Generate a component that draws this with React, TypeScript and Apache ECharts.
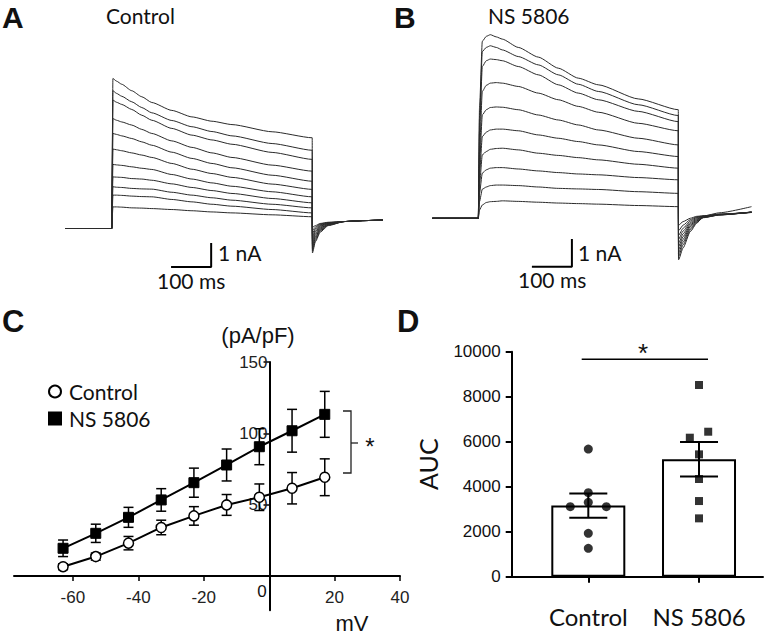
import React, { useEffect, useRef } from 'react';
import * as echarts from 'echarts';

// ---------- Panel A (Control) whole-cell current traces, nA ----------
const A_PRE_T = [-115, 0];
const A_STEP_T = [3, 12, 25, 50, 75, 100, 150, 200, 250, 300, 400, 500];
const A_STEP = [
  [6.25, 6.14, 6.01, 5.74, 5.49, 5.25, 4.92, 4.65, 4.47, 4.33, 4.03, 3.78],
  [5.74, 5.63, 5.51, 5.28, 5.04, 4.82, 4.5, 4.24, 4.04, 3.86, 3.54, 3.26],
  [5.35, 5.26, 5.17, 4.96, 4.72, 4.51, 4.17, 3.89, 3.69, 3.51, 3.17, 2.88],
  [4.58, 4.51, 4.44, 4.31, 4.13, 3.96, 3.65, 3.38, 3.15, 2.96, 2.64, 2.39],
  [3.96, 3.92, 3.86, 3.75, 3.61, 3.47, 3.18, 2.92, 2.71, 2.53, 2.22, 1.97],
  [3.31, 3.28, 3.24, 3.15, 3.06, 2.96, 2.71, 2.47, 2.29, 2.13, 1.85, 1.63],
  [2.67, 2.65, 2.63, 2.57, 2.51, 2.46, 2.25, 2.06, 1.9, 1.76, 1.53, 1.32],
  [2.15, 2.14, 2.13, 2.08, 2.06, 2.01, 1.86, 1.71, 1.58, 1.46, 1.25, 1.07],
  [1.74, 1.72, 1.71, 1.67, 1.65, 1.64, 1.51, 1.39, 1.28, 1.18, 1.01, 0.86],
  [1.39, 1.39, 1.38, 1.35, 1.33, 1.32, 1.21, 1.11, 1.01, 0.93, 0.79, 0.65],
  [0.9, 0.9, 0.89, 0.86, 0.85, 0.83, 0.79, 0.74, 0.69, 0.65, 0.57, 0.49],
];
const A_TAIL_T = [500.5, 508, 520, 540];
const A_TAIL = [
  [-1.02, -0.55, -0.15, 0.12],
  [-0.92, -0.48, -0.1, 0.14],
  [-0.82, -0.41, -0.06, 0.15],
  [-0.72, -0.34, -0.02, 0.17],
  [-0.62, -0.27, 0.02, 0.18],
  [-0.52, -0.2, 0.06, 0.2],
  [-0.42, -0.13, 0.1, 0.21],
  [-0.32, -0.06, 0.13, 0.22],
  [-0.2, 0.0, 0.16, 0.24],
  [-0.08, 0.06, 0.19, 0.25],
  [0.05, 0.12, 0.21, 0.26],
];
const A_LATE_T = [580, 630, 676];
const A_LATE = [0.29, 0.33, 0.35];

// ---------- Panel B (NS 5806) ----------
const B_PRE_T = [-115, 0];
const B_STEP_T = [3, 10, 20, 30, 45, 60, 100, 150, 200, 250, 300, 400, 500];
const B_STEP = [
  [3.98, 6.39, 6.57, 6.63, 6.55, 6.47, 6.17, 5.82, 5.42, 5.06, 4.82, 4.31, 3.92],
  [3.61, 6.02, 6.17, 6.23, 6.17, 6.08, 5.84, 5.54, 5.18, 4.84, 4.58, 4.1, 3.71],
  [3.13, 5.48, 5.69, 5.75, 5.73, 5.69, 5.48, 5.18, 4.82, 4.52, 4.28, 3.86, 3.49],
  [2.41, 4.58, 4.8, 4.88, 4.9, 4.88, 4.76, 4.52, 4.28, 4.04, 3.83, 3.43, 3.16],
  [1.93, 3.73, 3.92, 4.0, 4.02, 4.01, 3.92, 3.73, 3.55, 3.37, 3.19, 2.89, 2.65],
  [1.57, 2.95, 3.11, 3.19, 3.22, 3.22, 3.16, 3.01, 2.89, 2.77, 2.65, 2.41, 2.23],
  [1.2, 2.29, 2.41, 2.49, 2.52, 2.53, 2.47, 2.35, 2.27, 2.19, 2.11, 1.95, 1.81],
  [0.9, 1.63, 1.75, 1.81, 1.83, 1.83, 1.78, 1.71, 1.65, 1.6, 1.57, 1.47, 1.39],
  [0.6, 1.05, 1.13, 1.18, 1.2, 1.2, 1.18, 1.13, 1.08, 1.06, 1.04, 0.96, 0.9],
  [0.3, 0.48, 0.57, 0.6, 0.61, 0.63, 0.61, 0.58, 0.55, 0.53, 0.51, 0.46, 0.42],
];
const B_TAIL_T = [500.5, 512, 530, 546];
const B_TAIL = [
  [-1.5, -1.07, -0.48, -0.18],
  [-1.38, -0.96, -0.42, -0.15],
  [-1.26, -0.86, -0.36, -0.12],
  [-1.14, -0.76, -0.3, -0.09],
  [-1.02, -0.66, -0.25, -0.06],
  [-0.9, -0.56, -0.2, -0.03],
  [-0.76, -0.46, -0.15, 0.0],
  [-0.62, -0.36, -0.1, 0.03],
  [-0.45, -0.25, -0.05, 0.05],
  [-0.25, -0.12, 0.0, 0.07],
];
const B_LATE_T = [562, 604, 683];
const B_LATE = [
  [0.08, 0.2, 0.42],
  [0.02, 0.12, 0.23],
  [0.03, 0.12, 0.22],
  [0.03, 0.13, 0.22],
  [0.04, 0.13, 0.22],
  [0.05, 0.13, 0.21],
  [0.06, 0.14, 0.22],
  [0.07, 0.14, 0.22],
  [0.08, 0.15, 0.21],
  [0.09, 0.15, 0.22],
];

// scale bars (length in data units)
const SCALE_MS = 100;
const SCALE_NA = 1;
const A_BAR_ORIGIN = [148, -1.6];
const B_BAR_ORIGIN = [134, -1.75];

// ---------- Panel C: I-V relation (pA/pF) ----------
const VOLTAGES = [-63, -53, -43, -33, -23, -13, -3, 7, 17];
const CTRL_MEAN = [6.5, 13.6, 23.0, 34.0, 42.1, 49.8, 55.2, 61.5, 69.2];
const CTRL_SEM = [2, 2.5, 4.7, 5.1, 6.5, 7.3, 9.3, 11, 12.9];
const NS_MEAN = [19.4, 29.9, 41.1, 53.3, 65.4, 77.8, 90.6, 101.8, 113.3];
const NS_SEM = [5.8, 6.4, 7.0, 7.9, 10.2, 11.2, 12.6, 15.0, 16.1];
const C_X_TICKS = [-60, -40, -20, 20, 40];
const C_Y_TICKS = [50, 100, 150];

// ---------- Panel D: AUC ----------
const GROUPS = ['Control', 'NS 5806'];
const AUC_MEAN = [3160, 5220];
const AUC_SEM = [540, 770];
const CTRL_AUC = [5674, 3733, 3304, 3111, 3111, 1926, 1259];
const CTRL_JITTER = [0, 0, 0, -0.163, 0.163, 0, 0];
const NS_AUC = [8519, 6444, 6178, 5437, 4341, 3363, 2593];
const NS_JITTER = [0, 0.083, -0.083, 0, 0, 0, 0];

const SANS = 'Liberation Sans, Arial, sans-serif';
const CAL = 'Lato, Open Sans, sans-serif';

function buildTrace(preT: number[], stepT: number[], step: number[], tailT: number[], tail: number[], lateT: number[], late: number[]) {
  const d: number[][] = [];
  preT.forEach((t) => d.push([t, 0]));
  stepT.forEach((t, j) => d.push([t, step[j]]));
  tailT.forEach((t, j) => d.push([t, tail[j]]));
  lateT.forEach((t, j) => d.push([t, late[j]]));
  return d;
}

function errRender(halfW: number, lw: number) {
  return (params: any, api: any) => {
    const x = api.value(0);
    const lo = api.coord([x, api.value(1)]);
    const hi = api.coord([x, api.value(2)]);
    const st = { stroke: '#000', lineWidth: lw };
    return {
      type: 'group',
      children: [
        { type: 'line', shape: { x1: lo[0], y1: lo[1], x2: hi[0], y2: hi[1] }, style: st },
        { type: 'line', shape: { x1: lo[0] - halfW, y1: lo[1], x2: lo[0] + halfW, y2: lo[1] }, style: st },
        { type: 'line', shape: { x1: hi[0] - halfW, y1: hi[1], x2: hi[0] + halfW, y2: hi[1] }, style: st },
      ],
    };
  };
}

function txt(text: string, x: number, y: number, font: string, align = 'left', va = 'middle') {
  return { type: 'text', x, y, silent: true, style: { text, font, fill: '#111', align, verticalAlign: va } };
}

export default function App() {
  const ref = useRef<HTMLDivElement>(null);
  useEffect(() => {
    if (!ref.current) return;
    const chart = echarts.init(ref.current, undefined, { renderer: 'svg' });
    const series: any[] = [];
    const traceStyle = { type: 'line', symbol: 'none', smooth: 0.2, smoothMonotone: 'x', silent: true, lineStyle: { color: '#2a2a2a', width: 1 } };
    A_STEP.forEach((s, i) => {
      series.push({ ...traceStyle, name: 'A' + i, xAxisIndex: 0, yAxisIndex: 0, data: buildTrace(A_PRE_T, A_STEP_T, s, A_TAIL_T, A_TAIL[i], A_LATE_T, A_LATE) });
    });
    B_STEP.forEach((s, i) => {
      series.push({ ...traceStyle, name: 'B' + i, xAxisIndex: 1, yAxisIndex: 1, data: buildTrace(B_PRE_T, B_STEP_T, s, B_TAIL_T, B_TAIL[i], B_LATE_T, B_LATE[i]) });
    });
    const barStyle = { type: 'line', symbol: 'none', silent: true, lineStyle: { color: '#000', width: 2 } };
    series.push({
      ...barStyle, name: 'scaleA', xAxisIndex: 0, yAxisIndex: 0,
      data: [A_BAR_ORIGIN, [A_BAR_ORIGIN[0] + SCALE_MS, A_BAR_ORIGIN[1]], [A_BAR_ORIGIN[0] + SCALE_MS, A_BAR_ORIGIN[1] + SCALE_NA]],
    });
    series.push({
      ...barStyle, name: 'scaleB', xAxisIndex: 1, yAxisIndex: 1,
      data: [B_BAR_ORIGIN, [B_BAR_ORIGIN[0] + SCALE_MS, B_BAR_ORIGIN[1]], [B_BAR_ORIGIN[0] + SCALE_MS, B_BAR_ORIGIN[1] + SCALE_NA]],
    });
    // Panel C
    series.push({
      type: 'custom', name: 'errC', xAxisIndex: 2, yAxisIndex: 2, z: 2, silent: true,
      renderItem: errRender(5, 1.5), encode: { x: 0, y: [1, 2] },
      data: VOLTAGES.map((v, i) => [v, CTRL_MEAN[i] - CTRL_SEM[i], CTRL_MEAN[i] + CTRL_SEM[i]]),
    });
    series.push({
      type: 'custom', name: 'errN', xAxisIndex: 2, yAxisIndex: 2, z: 2, silent: true,
      renderItem: errRender(5, 1.5), encode: { x: 0, y: [1, 2] },
      data: VOLTAGES.map((v, i) => [v, NS_MEAN[i] - NS_SEM[i], NS_MEAN[i] + NS_SEM[i]]),
    });
    series.push({
      type: 'line', name: 'Control', xAxisIndex: 2, yAxisIndex: 2, z: 3,
      symbol: 'circle', symbolSize: 10,
      itemStyle: { color: '#fff', borderColor: '#000', borderWidth: 1.5 },
      lineStyle: { color: '#000', width: 2 },
      data: VOLTAGES.map((v, i) => [v, CTRL_MEAN[i]]),
    });
    series.push({
      type: 'line', name: 'NS 5806', xAxisIndex: 2, yAxisIndex: 2, z: 3,
      symbol: 'rect', symbolSize: 10,
      itemStyle: { color: '#000', borderColor: '#000', borderWidth: 1 },
      lineStyle: { color: '#000', width: 2 },
      data: VOLTAGES.map((v, i) => [v, NS_MEAN[i]]),
    });
    // Panel D
    series.push({
      type: 'bar', name: 'aucMean', xAxisIndex: 3, yAxisIndex: 3, barWidth: 74, silent: true,
      itemStyle: { color: '#fff', borderColor: '#000', borderWidth: 2 },
      data: AUC_MEAN.map((m, i) => [i, m]),
    });
    series.push({
      type: 'custom', name: 'errD', xAxisIndex: 3, yAxisIndex: 3, z: 4, silent: true,
      renderItem: errRender(19, 2), encode: { x: 0, y: [1, 2] },
      data: AUC_MEAN.map((m, i) => [i, m - AUC_SEM[i], m + AUC_SEM[i]]),
    });
    series.push({
      type: 'scatter', name: 'ctrlDots', xAxisIndex: 3, yAxisIndex: 3, z: 5, silent: true,
      symbol: 'circle', symbolSize: 9, itemStyle: { color: '#000' },
      data: CTRL_AUC.map((v, i) => [0 + CTRL_JITTER[i], v]),
    });
    series.push({
      type: 'scatter', name: 'nsDots', xAxisIndex: 3, yAxisIndex: 3, z: 5, silent: true,
      symbol: 'rect', symbolSize: 8, itemStyle: { color: '#000' },
      data: NS_AUC.map((v, i) => [1 + NS_JITTER[i], v]),
    });

    const hidden = { show: false, splitLine: { show: false } };
    const axLine = { show: true, onZero: false, lineStyle: { color: '#000', width: 2 } };

    chart.setOption({
      animation: false,
      backgroundColor: '#fff',
      grid: [
        { left: 65.6, top: 60.5, width: 322.8, height: 216 },
        { left: 432.3, top: 18.9, width: 322, height: 260.3 },
        { left: 14, top: 362, width: 386, height: 248.2 },
        { left: 511.7, top: 351.7, width: 251.3, height: 225 },
      ],
      xAxis: [
        { type: 'value', gridIndex: 0, min: -115, max: 690, ...hidden },
        { type: 'value', gridIndex: 1, min: -115, max: 690, ...hidden },
        {
          type: 'value', gridIndex: 2, min: -78, max: 40, position: 'bottom', offset: -34.2,
          axisLine: axLine,
          axisTick: { show: true, customValues: C_X_TICKS, length: 5, lineStyle: { color: '#000', width: 1.5 } },
          axisLabel: { customValues: C_X_TICKS, margin: 13, fontFamily: SANS, fontSize: 17, color: '#222' },
          splitLine: { show: false },
        },
        {
          type: 'value', gridIndex: 3, min: -0.692, max: 1.578,
          axisLine: axLine,
          axisTick: { show: true, customValues: [0, 1], length: 6, lineStyle: { color: '#000', width: 2 } },
          axisLabel: { customValues: [0, 1], formatter: (v: number) => GROUPS[Math.round(v)], margin: 28, fontFamily: CAL, fontSize: 24, color: '#111' },
          splitLine: { show: false },
        },
      ],
      yAxis: [
        { type: 'value', gridIndex: 0, min: -2, max: 7, ...hidden },
        { type: 'value', gridIndex: 1, min: -2.2, max: 7.2, ...hidden },
        {
          type: 'value', gridIndex: 2, min: -24, max: 150, position: 'left', offset: -255.5,
          axisLine: axLine,
          axisTick: { show: true, customValues: C_Y_TICKS, length: 6, lineStyle: { color: '#000', width: 1.5 } },
          axisLabel: { customValues: C_Y_TICKS, margin: 2, fontFamily: SANS, fontSize: 17, color: '#222' },
          splitLine: { show: false },
        },
        {
          type: 'value', gridIndex: 3, min: 0, max: 10000, interval: 2000,
          axisLine: axLine,
          axisTick: { show: true, length: 6, lineStyle: { color: '#000', width: 2 } },
          axisLabel: { margin: 11, fontFamily: SANS, fontSize: 17, color: '#111', formatter: (v: number) => String(v) },
          splitLine: { show: false },
          name: 'AUC', nameLocation: 'middle', nameRotate: 90, nameGap: 71,
          nameTextStyle: { fontFamily: CAL, fontSize: 25, color: '#111' },
        },
      ],
      legend: {
        data: [{ name: 'Control', icon: 'circle' }, { name: 'NS 5806', icon: 'rect' }],
        orient: 'vertical', left: 43, top: 376, itemWidth: 12, itemHeight: 12, itemGap: 6,
        selectedMode: false,
        textStyle: { fontFamily: CAL, fontSize: 21, color: '#111', padding: [0, 0, 0, 3] },
      },
      graphic: [
        txt('A', 2, 17, `bold 30px ${SANS}`),
        txt('B', 394, 17, `bold 30px ${SANS}`),
        txt('C', 2, 321, `bold 31px ${SANS}`),
        txt('D', 397, 321, `bold 31px ${SANS}`),
        txt('Control', 106, 15, `21px ${CAL}`),
        txt('NS 5806', 488, 15, `21px ${CAL}`),
        txt('1 nA', 218, 252, `21px ${CAL}`),
        txt('100 ms', 157, 280, `21px ${CAL}`),
        txt('1 nA', 578, 252, `21px ${CAL}`),
        txt('100 ms', 518, 279, `21px ${CAL}`),
        txt('(pA/pF)', 258, 335, `22px ${SANS}`, 'center'),
        txt('mV', 352, 623, `22px ${SANS}`, 'center'),
        txt('0', 262, 591, `17px ${SANS}`, 'center'),
        {
          type: 'polyline', silent: true,
          shape: { points: [[343, 411], [351, 411], [351, 473], [343, 473]] },
          style: { stroke: '#222', lineWidth: 1.3, fill: null },
        },
        { type: 'line', silent: true, shape: { x1: 351, y1: 443, x2: 358, y2: 443 }, style: { stroke: '#222', lineWidth: 1.3 } },
        txt('*', 370, 446, `24px ${SANS}`, 'center'),
        { type: 'line', silent: true, shape: { x1: 581.7, y1: 359.3, x2: 708, y2: 359.3 }, style: { stroke: '#000', lineWidth: 1.5 } },
        txt('*', 643, 353, `26px ${SANS}`, 'center'),
      ],
      series,
    });
    return () => chart.dispose();
  }, []);
  return <div ref={ref} style={{ position: 'fixed', left: 0, top: 0, width: 766, height: 634, background: '#fff' }} />;
}
